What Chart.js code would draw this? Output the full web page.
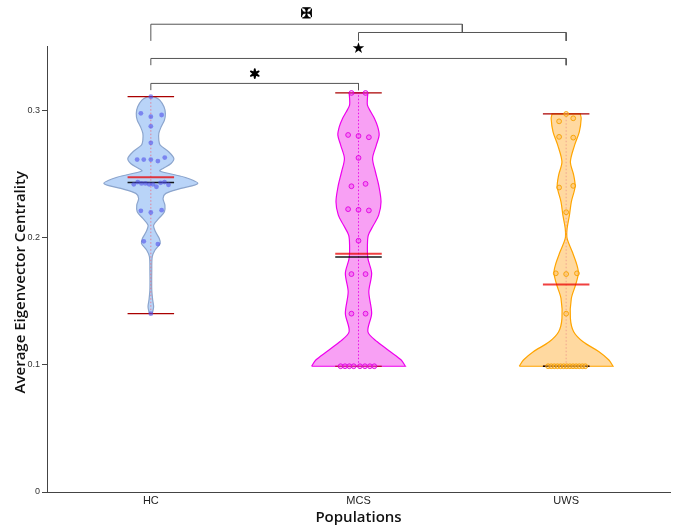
<!DOCTYPE html>
<html><head><meta charset="utf-8">
<script src="https://cdn.jsdelivr.net/npm/chart.js@4.4.1/dist/chart.umd.min.js"></script>
<style>html,body{margin:0;padding:0;background:#fff;}</style>
</head><body>
<canvas id="c" width="675" height="529"></canvas>
<script>
// ---------- data ----------
const categories = ['HC', 'MCS', 'UWS'];
const yTicks = [0, 0.1, 0.2, 0.3];
const yTickLabels = ['0', '0.1', '0.2', '0.3'];
const yMax = 0.35;
const xTitle = 'Populations';
const yTitle = 'Average Eigenvector Centrality';

// individual observations (value) and their horizontal spread (category units)
const hcValues = [0.3106, 0.2975, 0.2949, 0.2962, 0.2873, 0.2743, 0.2612, 0.2612, 0.2612, 0.2600, 0.2627,
  0.2417, 0.2435, 0.2424, 0.2424, 0.2417, 0.2417, 0.2398, 0.2429, 0.2435, 0.2414,
  0.2209, 0.2196, 0.2214, 0.1969, 0.1948, 0.1401];
const hcJitter = [0, -0.048, 0, 0.052, 0, 0, -0.066, -0.034, 0, 0.034, 0.067,
  -0.082, -0.063, -0.045, -0.026, -0.008, 0.010, 0.027, 0.047, 0.066, 0.085,
  -0.048, 0, 0.052, -0.034, 0.034, 0];

const mcsValues = [0.3135, 0.3135, 0.2805, 0.2797, 0.2787, 0.2625, 0.2402, 0.2421, 0.2222, 0.2217, 0.2212,
  0.1974, 0.1712, 0.1712, 0.1401, 0.1401,
  0.0988, 0.0988, 0.0988, 0.0988, 0.0988, 0.0988, 0.0988, 0.0988];
const mcsJitter = [-0.034, 0.034, -0.050, 0, 0.050, 0, -0.034, 0.034, -0.050, 0, 0.050,
  0, -0.034, 0.034, -0.034, 0.034,
  -0.086, -0.065, -0.044, -0.023, 0.007, 0.031, 0.055, 0.076];

const uwsValues = [0.2970, 0.2912, 0.2936, 0.2790, 0.2784, 0.2392, 0.2405, 0.2198, 0.1718, 0.1712, 0.1718, 0.1401,
  0.0988, 0.0988, 0.0988, 0.0988, 0.0988, 0.0988, 0.0988, 0.0988, 0.0988, 0.0988, 0.0988, 0.0988, 0.0988];
const uwsJitter = [0, -0.034, 0.034, -0.034, 0.034, -0.034, 0.034, 0, -0.050, 0, 0.052, 0,
  -0.087, -0.072, -0.057, -0.042, -0.027, -0.012, 0.003, 0.018, 0.033, 0.048, 0.063, 0.078, 0.092];

// violin outlines: value levels and relative density (1 = widest)
const hcProfileY = [0.1401, 0.1455, 0.1508, 0.1586, 0.1743, 0.1848, 0.1901, 0.1953, 0.1992, 0.2044, 0.2097,
  0.2149, 0.2201, 0.2254, 0.2306, 0.2346, 0.2385, 0.2424, 0.2473, 0.2522, 0.2542, 0.2581, 0.2621, 0.2673,
  0.2725, 0.2764, 0.2817, 0.2869, 0.2922, 0.2974, 0.3026, 0.3079, 0.3106];
const hcProfileW = [0.03, 0.06, 0.04, 0.02, 0.02, 0.03, 0.09, 0.20, 0.18, 0.10, 0.06,
  0.17, 0.29, 0.30, 0.26, 0.32, 0.64, 1.00, 0.72, 0.19, 0.26, 0.43, 0.49, 0.38,
  0.20, 0.17, 0.17, 0.22, 0.29, 0.31, 0.28, 0.19, 0.07];

const mcsProfileY = [0.0988, 0.1037, 0.1102, 0.1180, 0.1259, 0.1403, 0.1573, 0.1718, 0.1835, 0.1940, 0.2018,
  0.2097, 0.2175, 0.2280, 0.2411, 0.2516, 0.2621, 0.2725, 0.2804, 0.2869, 0.2935, 0.2987, 0.3039, 0.3092, 0.3135];
const mcsProfileW = [1.00, 0.91, 0.68, 0.40, 0.20, 0.28, 0.22, 0.28, 0.20, 0.19, 0.21,
  0.32, 0.43, 0.48, 0.43, 0.36, 0.30, 0.38, 0.44, 0.41, 0.34, 0.26, 0.19, 0.19, 0.20];

const uwsProfileY = [0.0988, 0.1037, 0.1102, 0.1180, 0.1259, 0.1364, 0.1521, 0.1626, 0.1718, 0.1783, 0.1887,
  0.1992, 0.2071, 0.2175, 0.2280, 0.2398, 0.2490, 0.2594, 0.2725, 0.2830, 0.2935, 0.2970];
const uwsProfileW = [1.00, 0.91, 0.70, 0.36, 0.16, 0.09, 0.11, 0.20, 0.26, 0.23, 0.13,
  0.02, 0.02, 0.07, 0.11, 0.19, 0.16, 0.09, 0.18, 0.28, 0.32, 0.30];

// summary lines
const groupMeans = [0.2473, 0.1872, 0.1631];
const groupMedians = [0.2431, 0.1846, 0.0988];
const groupMins = [0.1401, 0.0988, 0.0988];
const groupMaxs = [0.3106, 0.3135, 0.2970];

// significance brackets
const bracketFrom = [0, 0, 1, 0];
const bracketTo = [1, 2, 2, 1.5];
const bracketTop = [0.3210, 0.3406, 0.3610, 0.3675];
const bracketLeftEnd = [0.3157, 0.3353, 0.3544, 0.3544];
const bracketRightEnd = [0.3157, 0.3353, 0.3544, 0.3610];
const sigSymbols = ['\u2736', '\u2605', '\u2720'];
const sigSymbolX = [0.5, 1, 0.75];
const sigSymbolY = [0.3275, 0.3477, 0.3754];

// ---------- styling ----------
const VW = 0.226;      // half width of widest violin part (category units)
const LW = 0.112;      // half width of summary lines
const groups = [
  {values: hcValues, jitter: hcJitter, py: hcProfileY, pw: hcProfileW,
   fill: 'rgba(185,212,248,1)', edge: 'rgba(140,165,205,1)', center: 'rgba(235,110,130,0.8)',
   ptFill: 'rgba(80,80,235,0.6)', ptEdge: 'rgba(80,80,235,0.0)', ptBW: 0},
  {values: mcsValues, jitter: mcsJitter, py: mcsProfileY, pw: mcsProfileW,
   fill: 'rgba(248,160,244,1)', edge: 'rgba(238,0,238,1)', center: 'rgba(230,0,230,0.9)',
   ptFill: 'rgba(240,80,240,0.45)', ptEdge: 'rgba(225,0,225,0.9)', ptBW: 1},
  {values: uwsValues, jitter: uwsJitter, py: uwsProfileY, pw: uwsProfileW,
   fill: 'rgba(255,217,160,1)', edge: 'rgba(255,165,0,1)', center: 'rgba(235,150,140,0.8)',
   ptFill: 'rgba(255,190,90,0.45)', ptEdge: 'rgba(245,160,0,0.9)', ptBW: 1}
];

function violinShape(cx, ys, ws) {
  const n = ys.length, pts = [];
  pts.push({x: cx - ws[0] * VW, y: ys[0]});
  pts.push({x: cx + ws[0] * VW, y: ys[0]});
  for (let i = 0; i < n; i++) pts.push({x: cx + ws[i] * VW, y: ys[i]});
  pts.push({x: cx + ws[n - 1] * VW, y: ys[n - 1]});
  pts.push({x: cx - ws[n - 1] * VW, y: ys[n - 1]});
  for (let i = n - 1; i >= 0; i--) pts.push({x: cx - ws[i] * VW, y: ys[i]});
  return pts;
}

const datasets = [];
groups.forEach((g, gi) => {
  datasets.push({data: violinShape(gi, g.py, g.pw), fill: 'shape', backgroundColor: g.fill,
    borderColor: g.edge, borderWidth: 1.2, tension: 0.3, pointRadius: 0, order: 20});
  datasets.push({data: [{x: gi, y: groupMins[gi]}, {x: gi, y: groupMaxs[gi]}], borderColor: g.center,
    borderWidth: 1, borderDash: [1.5, 2], pointRadius: 0, fill: false, order: 19});
  const hl = (v, color, w, order) => datasets.push({data: [{x: gi - LW, y: v}, {x: gi + LW, y: v}],
    borderColor: color, borderWidth: w, pointRadius: 0, fill: false, order});
  hl(groupMins[gi], 'rgba(170,0,0,1)', 1.2, 15);
  hl(groupMaxs[gi], 'rgba(170,0,0,1)', 1.2, 15);
  hl(groupMedians[gi], 'rgba(0,0,0,0.9)', 1.4, 14);
  hl(groupMeans[gi], 'rgba(235,0,0,0.75)', 2, 13);
  datasets.push({data: g.values.map((v, i) => ({x: gi + g.jitter[i], y: v})), showLine: false,
    pointRadius: 2.4, pointBackgroundColor: g.ptFill, pointBorderColor: g.ptEdge, pointBorderWidth: g.ptBW,
    fill: false, order: 5});
});
bracketFrom.forEach((f, i) => {
  datasets.push({data: [{x: f, y: bracketLeftEnd[i]}, {x: f, y: bracketTop[i]},
    {x: bracketTo[i], y: bracketTop[i]}, {x: bracketTo[i], y: bracketRightEnd[i]}],
    borderColor: '#555', borderWidth: 1, pointRadius: 0, fill: false, tension: 0, clip: false, order: 1});
});

const symbolFonts = ['12px "DejaVu Sans"', '15px "DejaVu Sans"', 'bold 14px "DejaVu Sans"'];
const symbolStroke = [1.8, 0, 0.8];
const annotations = {
  id: 'annotations',
  afterDraw(chart) {
    const {ctx} = chart, x = chart.scales.x, y = chart.scales.y;
    ctx.save();
    ctx.fillStyle = '#000';
    ctx.strokeStyle = '#000';
    ctx.lineJoin = 'round';
    ctx.textAlign = 'center';
    ctx.textBaseline = 'middle';
    sigSymbols.forEach((s, i) => {
      ctx.font = symbolFonts[i];
      const px = x.getPixelForValue(sigSymbolX[i]), py = y.getPixelForValue(sigSymbolY[i]);
      ctx.fillText(s, px, py);
      if (symbolStroke[i] > 0) { ctx.lineWidth = symbolStroke[i]; ctx.strokeText(s, px, py); }
    });
    ctx.translate(21, (y.top + y.bottom) / 2 + 13);
    ctx.rotate(-Math.PI / 2);
    ctx.fillStyle = '#111';
    ctx.font = '600 15px "Open Sans"';
    ctx.fillText(yTitle, 0, 0);
    ctx.restore();
  }
};

new Chart(document.getElementById('c'), {
  type: 'line',
  data: {datasets},
  plugins: [annotations],
  options: {
    responsive: false, animation: false, events: [],
    layout: {padding: {top: 46.5, right: 5, left: 0, bottom: 0}},
    plugins: {legend: {display: false}, tooltip: {enabled: false}, title: {display: false}},
    scales: {
      x: {
        type: 'linear', min: -0.5, max: 2.5,
        afterBuildTicks: s => { s.ticks = categories.map((c, i) => ({value: i})); },
        afterFit: s => { s.height = 37; },
        ticks: {callback: v => categories[v], font: {family: '"Liberation Sans", Arial', size: 11}, color: '#222', padding: 2, maxRotation: 0},
        grid: {display: false, drawTicks: false, tickLength: 0},
        border: {display: true, color: '#444', width: 1},
        title: {display: true, text: xTitle, font: {family: '"Open Sans"', size: 15, weight: '600'}, color: '#111', padding: {top: 0, bottom: 2}}
      },
      y: {
        type: 'linear', min: 0, max: yMax,
        afterBuildTicks: s => { s.ticks = yTicks.map(v => ({value: v})); },
        afterFit: s => { s.width = 47; },
        ticks: {callback: (v, i) => yTickLabels[i], font: {family: '"Liberation Sans Narrow", "Liberation Sans"', size: 9}, color: '#333', padding: 2},
        grid: {display: true, drawOnChartArea: false, drawTicks: true, tickLength: 5, color: '#444'},
        border: {display: true, color: '#444', width: 1}
      }
    }
  }
});
</script>
</body></html>
